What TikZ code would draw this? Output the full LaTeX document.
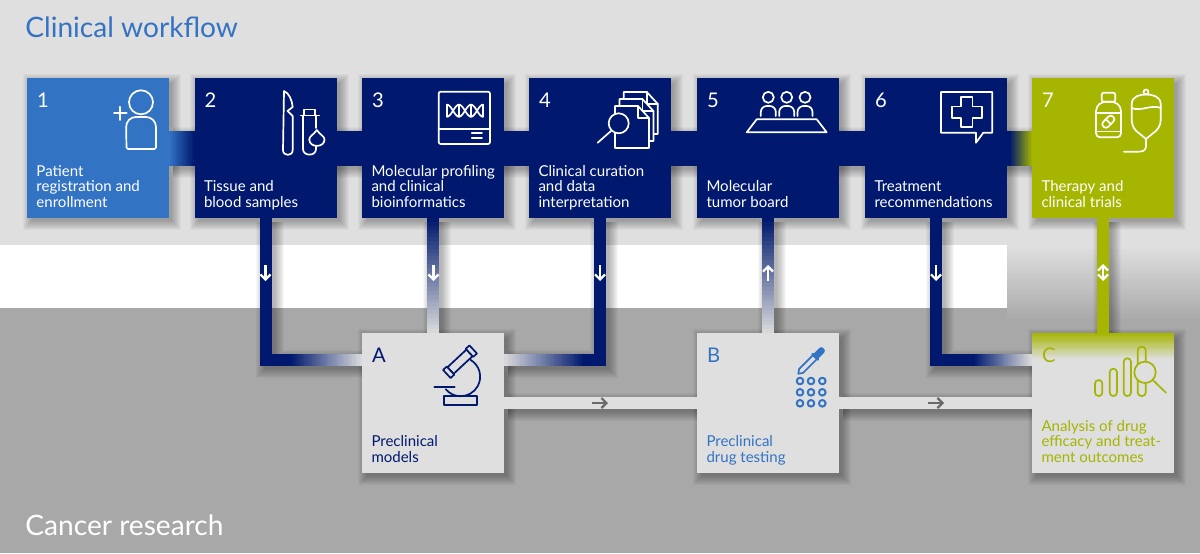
\documentclass[tikz,border=0pt]{standalone}
\usepackage{fontspec}
\setmainfont{Lato}
\usetikzlibrary{arrows.meta,calc}
\pgfdeclarelayer{back}
\pgfdeclarelayer{bars}
\pgfsetlayers{back,bars,main}
\definecolor{stepnavy}{RGB}{0,25,110}
\definecolor{stepblue}{RGB}{51,115,196}
\definecolor{stepolive}{RGB}{165,181,0}
\definecolor{boxgray}{RGB}{223,223,223}
\definecolor{lowgray}{RGB}{168,168,168}
\definecolor{markgray}{RGB}{105,105,105}
\tikzset{
    stepbox/.style={minimum width=28.4mm,minimum height=28mm,inner sep=0pt},
    stepnum/.style={anchor=base west,inner sep=0pt,xshift=2mm,yshift=-6mm,font=\fontsize{11.5}{12}\selectfont},
    steplabel/.style={anchor=south west,inner sep=0pt,xshift=1.9mm,yshift=2.2mm,align=left,text depth=0pt,font=\fontsize{8.55}{8.8}\selectfont},
    headline/.style={anchor=base west,inner sep=0pt,font=\fontsize{16}{18}\selectfont},
    flowbar/.style={line width=2.4mm},
    iconline/.style={line width=.34mm,line cap=round,line join=round},
    markarrow/.style={line width=.45mm,-{Straight Barb[length=1mm,width=2mm]}},
}
\newcommand{\softbox}[1]{
    \foreach \w in {-1,0,...,8} {
        \fill[black,opacity=.033] ($(#1.north west)+(4-\w,4-\w)$) rectangle ($(#1.south east)+(4+\w,4+\w)$);
    }
}
\newcommand{\softbar}[2]{
    \foreach \w in {-1,0,...,8} {
        \draw[black,opacity=.033,line width={(#1+2*\w)*.2mm},transform canvas={xshift=.8mm,yshift=-.8mm}] #2;
    }
}
\newcommand{\fadex}[6]{
    \foreach \i in {0,...,30} {
        \pgfmathsetmacro{\p}{100-\i*100/30}
        \fill[#5!\p!#6] ({#1+(#2-#1)*\i/30},#3) rectangle (#2,#4);
    }
}
\newcommand{\fadey}[6]{
    \foreach \i in {0,...,30} {
        \pgfmathsetmacro{\p}{100-\i*100/30}
        \fill[#5!\p!#6] (#3,{#1+(#2-#1)*\i/30}) rectangle (#4,#2);
    }
}
\begin{document}
\begin{tikzpicture}[x=.2mm,y=-.2mm]
    \useasboundingbox (0,0) rectangle (1200,553);

    \foreach \n/\x/\c in {s1/98/stepblue,s2/265.5/stepnavy,s3/433/stepnavy,s4/600/stepnavy,s5/768/stepnavy,s6/936/stepnavy,s7/1103/stepolive}
    \node[stepbox,fill=\c] (\n) at (\x,148) {};
    \foreach \n/\x in {ma/433,mb/768,mc/1103}
    \node[stepbox,fill=boxgray] (\n) at (\x,403) {};
    \fadey{333}{359}{1032}{1174}{stepolive}{boxgray}

    \coordinate (ain) at (362,360);
    \coordinate (aout) at (504,360);
    \coordinate (cin) at (1032,360);

    \begin{pgfonlayer}{back}
        \fill[boxgray] (0,0) rectangle (1200,245);
        \fill[white] (0,245) rectangle (1007,308);
        \fill[lowgray] (0,308) rectangle (1200,553);
        \fadey{245}{320}{1007}{1200}{boxgray}{lowgray}
        \foreach \n in {s1,s2,s3,s4,s5,s6,s7,ma,mb,mc} {
            \softbox{\n}
        }
        \softbar{35}{(s1) -- (s7)}
        \softbar{12}{(s2.south) |- (ain)}
        \softbar{12}{(s3.south) -- (ma.north)}
        \softbar{12}{(s4.south) |- (aout)}
        \softbar{12}{(s5.south) -- (mb.north)}
        \softbar{12}{(s6.south) |- (cin)}
        \softbar{12}{(s7.south) -- (mc.north)}
        \softbar{12}{(ma.east) -- (mb.west)}
        \softbar{12}{(mb.east) -- (mc.west)}
    \end{pgfonlayer}

    \begin{pgfonlayer}{bars}
        \draw[stepnavy,line width=7mm] (s1) -- (s7);
        \fadex{169}{194}{130.5}{165.5}{stepblue}{stepnavy}
        \fadex{1010}{1032}{130.5}{165.5}{stepnavy}{stepolive}
        \draw[flowbar,stepnavy] (s2.south) |- (ain);
        \draw[flowbar,stepnavy] (s4.south) |- (aout);
        \draw[flowbar,stepnavy] (s6.south) |- (cin);
        \draw[flowbar,stepnavy] (s3.south) -- (ma.north);
        \draw[flowbar,stepnavy] (s5.south) -- (mb.north);
        \draw[flowbar,stepolive] (s7.south) -- (mc.north);
        \draw[flowbar,boxgray] (ma.east) -- (mb.west);
        \draw[flowbar,boxgray] (mb.east) -- (mc.west);
        \fadex{290}{362}{354}{366}{stepnavy}{boxgray}
        \fadex{585}{504}{354}{366}{stepnavy}{boxgray}
        \fadex{973}{1032}{354}{366}{stepnavy}{boxgray}
        \fadey{218}{333}{427}{439}{stepnavy}{boxgray}
        \fadey{218}{333}{762}{774}{stepnavy}{boxgray}
    \end{pgfonlayer}

    \foreach \n/\x in {2/265.5,3/433.5,4/600,6/936} {
        \coordinate (up\n) at (\x,265);
        \coordinate (dn\n) at (\x,281);
        \draw[markarrow,white] (up\n) -- (dn\n);
    }
    \coordinate (up5) at (768,265);
    \coordinate (dn5) at (768,281);
    \draw[markarrow,white] (dn5) -- (up5);
    \coordinate (up7) at (1103,264);
    \coordinate (dn7) at (1103,281);
    \draw[markarrow,white,{Straight Barb[length=1mm,width=2mm]}-{Straight Barb[length=1mm,width=2mm]}] (up7) -- (dn7);
    \coordinate (ax) at (592,403);
    \coordinate (ay) at (608,403);
    \coordinate (bx) at (928,403);
    \coordinate (by) at (944,403);
    \draw[markarrow,markgray] (ax) -- (ay);
    \draw[markarrow,markgray] (bx) -- (by);

    \foreach \n/\t/\c in {s1/1/white,s2/2/white,s3/3/white,s4/4/white,s5/5/white,s6/6/white,s7/7/white,ma/A/stepnavy,mb/B/stepblue,mc/C/stepolive}
    \node[stepnum,text=\c] (n\n) at (\n.north west) {\t};
    \foreach \n/\t/\c in {s1/Patient\\registration and\\enrollment/white,
        s2/Tissue and\\blood samples/white,
        s3/Molecular profiling\\and clinical\\bioinformatics/white,
        s4/Clinical curation\\and data\\interpretation/white,
        s5/Molecular\\tumor board/white,
        s6/Treatment\\recommendations/white,
        s7/Therapy and\\clinical trials/white,
        ma/Preclinical\\models/stepnavy,
        mb/Preclinical\\drug testing/stepblue,
        mc/Analysis of drug\\efficacy and treat-\\ment outcomes/stepolive}
    \node[steplabel,text=\c] (l\n) at (\n.south west) {\t};

    \node[headline,text=stepblue] (title) at (25,37) {Clinical workflow};
    \node[headline,text=white] (research) at (25,535) {Cancer research};

    \draw[iconline,white] (141,102.3) circle (12);
    \draw[iconline,white] (126.5,149) [rounded corners=2mm] -- (126,117) -- (156,117) [rounded corners=.3mm] -- (156,149) -- cycle;
    \draw[iconline,white] (114,113.3) -- (126.7,113.3) (120.3,106.7) -- (120.3,120);

    \draw[iconline,white] (284,91) .. controls (289,93) and (292,100) .. (292.7,107) -- (287.5,111) -- (292.7,116) -- (292.7,150) .. controls (292.7,156.5) and (283,156.5) .. (283,150) -- cycle;
    \draw[iconline,white] (304,115) -- (304,109.5) -- (315,109.5) -- (315,115) (300.7,115.5) -- (319.3,115.5);
    \draw[iconline,white] (303,115.5) -- (303,149) .. controls (303,156.5) and (316,156.5) .. (316,149) -- (316,146);
    \draw[iconline,white] (316,115.5) -- (316,128);
    \draw[iconline,white,fill=stepnavy] (316.8,130) .. controls (320,135) and (324.5,136) .. (324.5,139.5) .. controls (324.5,148) and (309.3,148) .. (309.3,139.5) .. controls (309.3,136) and (313.5,135) .. (316.8,130) -- cycle;

    \draw[iconline,white,rounded corners=.4mm] (438.7,91.7) rectangle (490,144);
    \draw[iconline,white] (438.7,129) -- (490,129) (471.7,132.7) -- (482,132.7) (471.7,137.7) -- (482,137.7);
    \draw[iconline,white] plot[domain=0:36,samples=37] ({447+\x},{110.7+6*cos(15*\x)});
    \draw[iconline,white] plot[domain=0:36,samples=37] ({447+\x},{110.7-6*cos(15*\x)});
    \draw[iconline,white] (447,104.7) -- (447,116.7) (459,104.7) -- (459,116.7) (471,104.7) -- (471,116.7) (483,104.7) -- (483,116.7);

    \foreach \dx/\dy in {8.8/-14,4.4/-7,0/0} {
        \begin{scope}[shift={(\dx,\dy)}]
            \draw[iconline,white,fill=stepnavy] (615,106) -- (638,106) -- (649,118) -- (649,148) -- (615,148) -- cycle;
            \draw[iconline,white] (638,106) -- (638,118) -- (649,118);
        \end{scope}
    }
    \draw[iconline,white,fill=stepnavy] (618.7,123.3) circle (10);
    \draw[iconline,white] (611.5,130.5) -- (597.7,142.7);

    \foreach \x in {768.3,786.7,805} {
        \draw[iconline,white] (\x,97.3) circle (5.5);
        \draw[iconline,white] (\x-7.5,116) [rounded corners=1.2mm] -- (\x-7.5,106) -- (\x+7.5,106) [sharp corners] -- (\x+7.5,116);
    }
    \draw[iconline,white] (746.7,132.3) -- (826.7,132.3) -- (816.7,119.3) -- (756.7,119.3) -- cycle;

    \draw[iconline,white] (983.3,132.7) -- (992.3,132.7) -- (992.3,92) -- (941,92) -- (941,132.7) -- (976,132.7) -- (976,142.7) -- cycle;
    \draw[iconline,white] (961,97.3) -- (972.4,97.3) -- (972.4,106.6) -- (981.7,106.6) -- (981.7,118) -- (972.4,118) -- (972.4,127.3) -- (961,127.3) -- (961,118) -- (951.7,118) -- (951.7,106.6) -- (961,106.6) -- cycle;

    \draw[iconline,white,rounded corners=.4mm] (1101.7,92.7) rectangle (1115.3,101.7);
    \draw[iconline,white,rounded corners=.8mm] (1096,137.3) -- (1096,107) -- (1102,101.7) -- (1115,101.7) -- (1121,107) -- (1121,137.3) -- cycle;
    \draw[iconline,white] (1096,113) -- (1121,113) (1096,131.5) -- (1121,131.5);
    \begin{scope}[shift={(1108.3,121.7)},rotate=45]
        \draw[iconline,white,rounded corners=.65mm] (-7,-3.5) rectangle (7,3.5);
        \draw[iconline,white] (0,-3.5) -- (0,3.5);
    \end{scope}
    \draw[iconline,white] (1146,139) -- (1140,134) .. controls (1134,130) and (1132,126) .. (1131.7,120) -- (1131.7,104) .. controls (1132,96) and (1140,94.5) .. (1146,94.5) .. controls (1152,94.5) and (1160.5,96) .. (1160.7,104) -- (1160.7,120) .. controls (1160.5,126) and (1158,130) .. (1152,134) -- cycle;
    \draw[iconline,white] (1131.7,108) .. controls (1140,112) and (1152,104) .. (1160.7,108);
    \draw[iconline,white] (1146,92) circle (2.5);
    \draw[iconline,white] (1146,139) -- (1146,146) .. controls (1146,151) and (1142,151.7) .. (1138,151.7) -- (1124,151.7);

    \begin{scope}[shift={(460,361.7)},rotate=43]
        \draw[iconline,stepnavy,fill=boxgray] (-13,-4.5) rectangle (13,4.5);
        \draw[iconline,stepnavy,fill=boxgray] (-18,-5.5) rectangle (-13,5.5);
        \draw[iconline,stepnavy,fill=boxgray] (13,-5.5) rectangle (18,5.5);
    \end{scope}
    \draw[iconline,stepnavy] (470.4,359.8) arc (-60:140:19.5);
    \draw[iconline,stepnavy] (434.3,387.3) -- (454.7,387.3);
    \draw[iconline,stepnavy] (444,396) rectangle (477,404.7);

    \foreach \x in {800,811,822.3} {
        \foreach \y in {381,392.3,403.3} {
            \draw[iconline,stepblue,line width=.4mm] (\x,\y) circle (3.3);
        }
    }
    \begin{scope}[shift={(811,361)},rotate=45]
        \draw[iconline,stepblue] (-18,0) -- (-14,-2.8) -- (6,-2.8) -- (6,2.8) -- (-14,2.8) -- cycle;
        \draw[iconline,stepblue,line width=.5mm] (6,-4) -- (6,4);
        \draw[iconline,stepblue,fill=stepblue,rounded corners=.4mm] (6,-2.5) rectangle (17,2.5);
    \end{scope}

    \draw[iconline,stepolive,rounded corners=.7mm] (1095,380) rectangle (1102.3,396);
    \draw[iconline,stepolive,rounded corners=.7mm] (1109.7,368.7) rectangle (1117,396);
    \draw[iconline,stepolive,rounded corners=.7mm] (1123.7,358.3) rectangle (1131,396);
    \draw[iconline,stepolive,rounded corners=.7mm] (1137.7,346.7) rectangle (1145.7,396);
    \draw[iconline,stepolive,fill=boxgray] (1145,372.3) circle (10.7);
    \draw[iconline,stepolive] (1152.6,379.9) -- (1166,392.7);
\end{tikzpicture}
\end{document}
